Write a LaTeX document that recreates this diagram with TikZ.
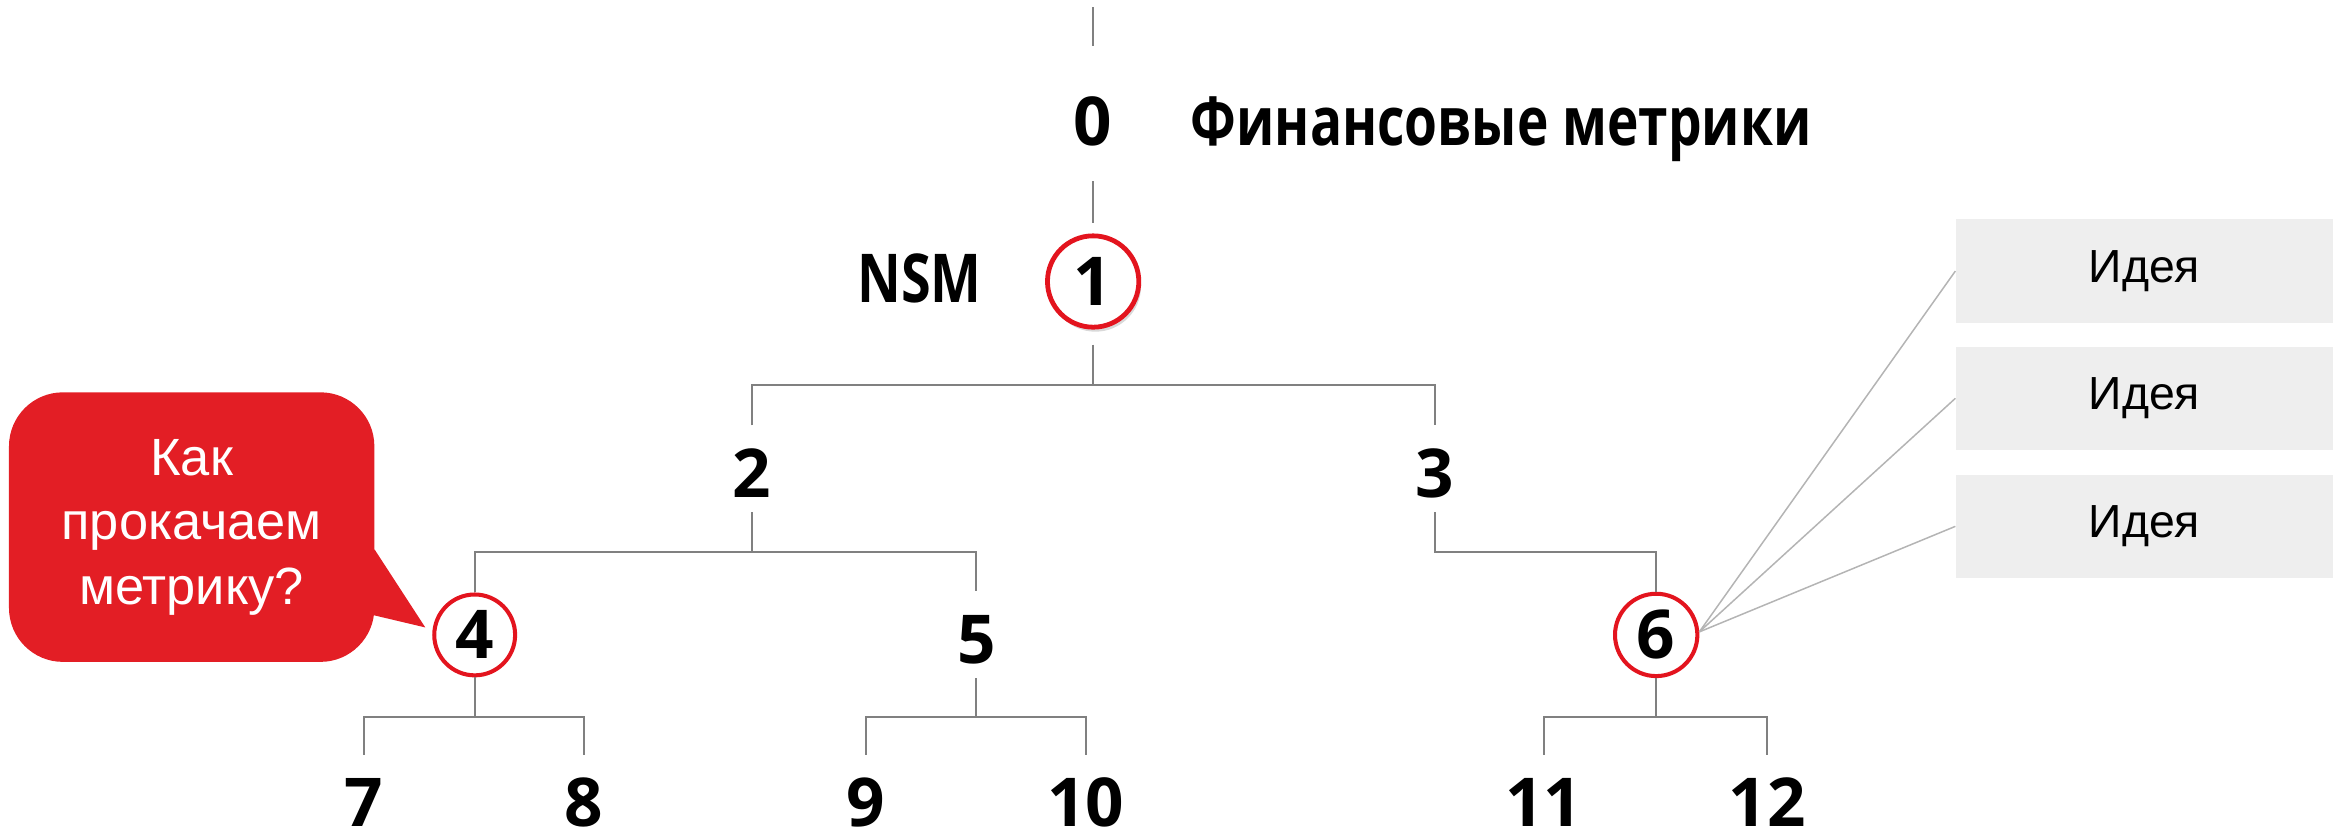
\documentclass[tikz,border=0pt]{standalone}
\usepackage{fontspec}
\usepackage{graphicx}
\usetikzlibrary{shadows,calc}
\newfontfamily\opensans{Open Sans}
\newfontfamily\arialfont{Liberation Sans}
\definecolor{treegray}{HTML}{808080}
\definecolor{ideagray}{HTML}{B4B4B4}
\definecolor{boxgray}{HTML}{EEEEEE}
\definecolor{markred}{HTML}{E3141E}
\definecolor{calloutred}{HTML}{E31E25}

\begin{document}
\begin{tikzpicture}[x=1pt,y=-1pt,
  num/.style={anchor=base, inner sep=0pt, outer sep=0pt,
    font=\opensans\bfseries\fontsize{45}{45}\selectfont,
    text height=48pt, text depth=10pt},
  leaf/.style={num, text depth=0pt},
  ring/.style={circle, draw=markred, line width=2.7pt, fill=white,
    inner sep=0pt, minimum size=#1,
    font=\opensans\bfseries\fontsize{45}{45}\selectfont},
  headtext/.style={inner sep=0pt, font=\opensans\bfseries\fontsize{45}{45}\selectfont},
  link/.style={draw=treegray, line width=1.3pt},
  idealink/.style={draw=ideagray, line width=1pt},
  ideabox/.style={fill=boxgray, minimum width=252pt, minimum height=69pt,
    inner sep=0pt, font=\arialfont\fontsize{31}{31}\selectfont}
]
\useasboundingbox (0,0) rectangle (1568,556);

% --- levels 0 and 1
\coordinate (topend) at (730,5);
\node[num, text height=66pt, text depth=24pt] (n0) at (730,97) {0};
\node[headtext, anchor=base west] (fin) at (795,97) {\scalebox{0.79}[1]{Финансовые метрики}};
\node[ring=61pt, line width=3.2pt,
  drop shadow={shadow xshift=1.5pt, shadow yshift=-3pt, opacity=0.3}] (c1) at (730,188) {1};
\node[headtext, anchor=base] (nsm) at (614,202) {\scalebox{0.8}[1]{NSM}};

% --- level 2
\node[num] (n2) at (502,332) {2};
\node[num] (n3) at (958,332) {3};

% --- level 3
\node[ring=54pt] (c4) at (317,424) {4};
\node[num] (n5) at (652,443) {5};
\node[ring=55pt] (c6) at (1106,424) {6};

% --- level 4
\node[leaf] (n7) at (243,552) {7};
\node[leaf] (n8) at (390,552) {8};
\node[leaf] (n9) at (578,552) {9};
\node[leaf] (n10) at (725,552) {10};
\node[leaf] (n11) at (1031,552) {11};
\node[leaf] (n12) at (1180,552) {12};

% --- junction points of the tree
\coordinate (j1) at (730,257);
\coordinate (j2) at (502,368.5);
\coordinate (j3) at (958,368.5);
\coordinate (j4) at (317,479);
\coordinate (j5) at (652,479);
\coordinate (j6) at (1106,479);

% --- tree connectors
\draw[link] (topend) -- (n0.north);
\draw[link, shorten >=7pt] (n0.south) -- (c1.north);
\draw[link, shorten <=10pt] (c1.south) -- (j1);
\draw[link] (n2.north) |- (j1) -| (n3.north);
\draw[link] (n2.south) -- (j2);
\draw[link] (c4.north) |- (j2) -| (n5.north);
\draw[link] (n3.south) -- (j3) -| (c6.north);
\draw[link] (c4.south) -- (j4);
\draw[link] (n7.north) |- (j4) -| (n8.north);
\draw[link] (n5.south) -- (j5);
\draw[link] (n9.north) |- (j5) -| (n10.north);
\draw[link] (c6.south) -- (j6);
\draw[link] (n11.north) |- (j6) -| (n12.north);

% --- ideas for metric 6
\node[ideabox] (i1) at (1432,181) {Идея};
\node[ideabox] (i2) at (1432,266) {Идея};
\node[ideabox] (i3) at (1432,351.5) {Идея};
\draw[idealink] (c6.4) -- (i1.west);
\draw[idealink] (c6.4) -- (i2.west);
\draw[idealink] (c6.4) -- (i3.west);

% --- speech bubble pointing at metric 4
\node[fill=calloutred, rounded corners=36pt, minimum width=244pt, minimum height=180pt,
  inner sep=0pt, text=white, align=center,
  font=\arialfont\fontsize{35}{43}\selectfont] (ask) at (128,352) {Как\\прокачаем\\метрику?};
\coordinate (tip) at (284,419);
\fill[calloutred] ($(ask.east |- 0,367)+(-12,0)$) -- (ask.east |- 0,367) -- (tip)
  -- (ask.east |- 0,411) -- ($(ask.east |- 0,411)+(-12,0)$) -- cycle;
\end{tikzpicture}
\end{document}
